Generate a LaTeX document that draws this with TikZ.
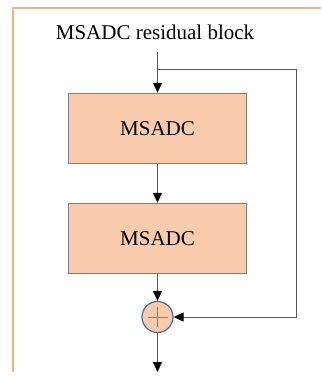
\documentclass[tikz,border=0pt]{standalone}
\usepackage{fontspec}
\setmainfont{Liberation Serif}
\usetikzlibrary{arrows.meta,calc}
\definecolor{peach}{HTML}{F8CBAD}
\definecolor{framec}{HTML}{F4B183}
\definecolor{edgec}{HTML}{7F7F7F}
\definecolor{linec}{HTML}{595959}
\definecolor{ringc}{HTML}{41719C}
\tikzset{
  blockbox/.style={draw=edgec, fill=peach, line width=1pt, minimum width=178pt, minimum height=70pt, inner sep=0pt, font=\fontsize{21}{25}\selectfont},
  flow/.style={draw=linec, line width=1pt, -{Triangle[length=10pt,width=9pt,color=black]}},
  sumnode/.style={circle, draw=ringc, fill=peach, line width=1.2pt, minimum size=31pt, inner sep=0pt},
}
\begin{document}
\begin{tikzpicture}[x=1pt,y=-1pt]
  \useasboundingbox (0,0) rectangle (321,377);
  % outer frame
  \draw[framec, line width=1.5pt] (13,372) -- (13,8) -- (321,8);
  \node[font=\fontsize{21}{25}\selectfont] (title) at (155,32) {MSADC residual block};
  \coordinate (in) at (157.5,52);
  \coordinate (split) at (157.5,70);
  \coordinate (back) at (296,70);
  \coordinate (out) at (157.5,372);
  \node[blockbox] (b1) at (157.5,128.3) {MSADC};
  \node[blockbox] (b2) at (157.5,238.3) {MSADC};
  \node[sumnode] (sum) at (157.5,317) {};
  \draw[edgec, line width=1pt] ($(sum.center)+(-10,0)$) -- ($(sum.center)+(10,0)$)
        ($(sum.center)+(0,-10)$) -- ($(sum.center)+(0,10)$);
  \draw[flow] (in) -- (b1.north);
  \draw[flow] (b1) -- (b2);
  \draw[flow] (b2) -- (sum);
  \draw[flow] (sum) -- (out);
  \draw[flow] (split) -- (back) |- (sum.east);
\end{tikzpicture}
\end{document}
